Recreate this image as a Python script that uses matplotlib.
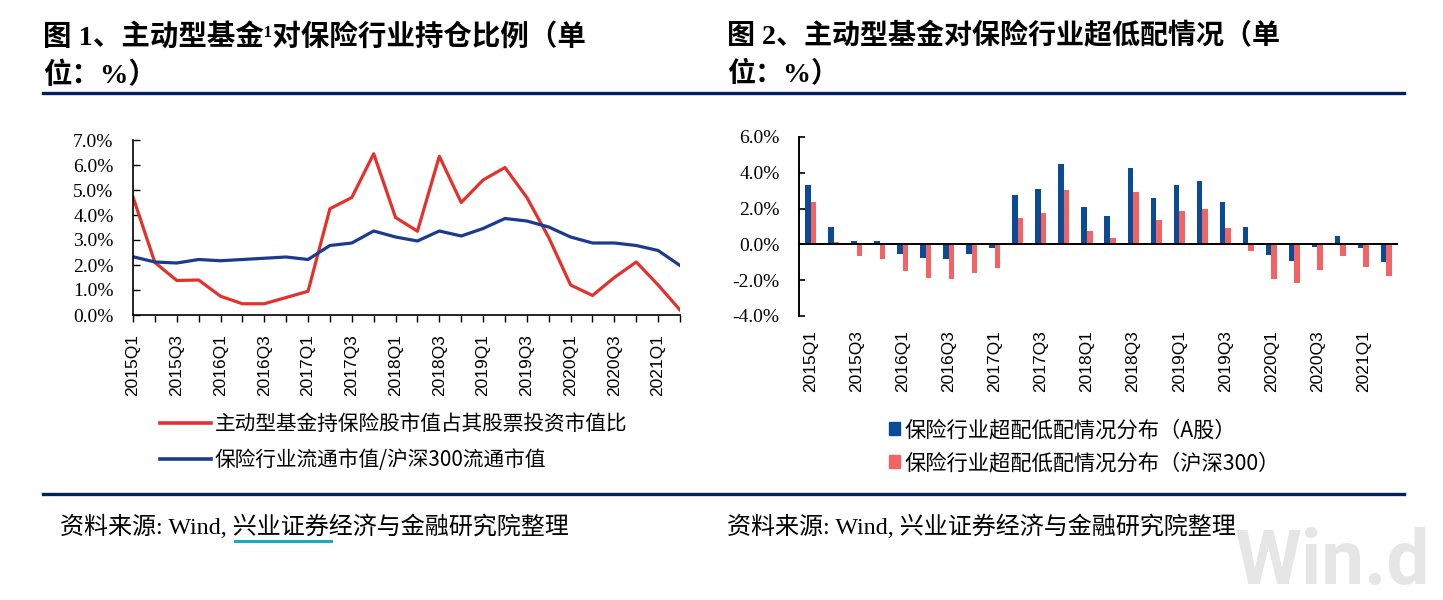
import matplotlib
matplotlib.use("Agg")
import matplotlib.pyplot as plt
from matplotlib.lines import Line2D
from matplotlib.patches import Patch
import numpy as np

quarters = [f"{y}Q{q}" for y in range(2015, 2022) for q in range(1, 5)][:26]

# Figure 1 data (%)
fund_weight = [4.72, 2.10, 1.38, 1.40, 0.75, 0.45, 0.45, 0.70, 0.95, 4.25,
               4.70, 6.45, 3.90, 3.35, 6.35, 4.50, 5.40, 5.90, 4.70, 3.10,
               1.20, 0.78, 1.50, 2.12, 1.20, 0.20]
industry_share = [2.33, 2.12, 2.08, 2.22, 2.17, 2.22, 2.27, 2.32, 2.22, 2.78,
                  2.88, 3.36, 3.12, 2.96, 3.36, 3.16, 3.46, 3.86, 3.76, 3.52,
                  3.12, 2.88, 2.88, 2.78, 2.58, 1.98]

# Figure 2 data (%)
over_a = [3.31, 0.97, 0.17, 0.17, -0.53, -0.74, -0.84, -0.53, -0.22, 2.74,
          3.10, 4.50, 2.07, 1.58, 4.28, 2.59, 3.31, 3.54, 2.38, 0.97,
          -0.59, -0.91, -0.13, 0.46, -0.20, -0.97]
over_hs300 = [2.38, 0.11, -0.67, -0.82, -1.47, -1.85, -1.92, -1.62, -1.33, 1.50,
              1.77, 3.03, 0.76, 0.34, 2.95, 1.35, 1.85, 2.00, 0.91, -0.38,
              -1.92, -2.13, -1.41, -0.67, -1.24, -1.77]

label1_red = "主动型基金持保险股市值占其股票投资市值比"
label1_blue = "保险行业流通市值/沪深300流通市值"
label2_blue = "保险行业超配低配情况分布（A股）"
label2_red = "保险行业超配低配情况分布（沪深300）"

W, H = 1443, 600
fig = plt.figure(figsize=(W / 100, H / 100), dpi=100)

CJK = ['Liberation Serif', 'Noto Sans CJK SC', 'DejaVu Sans']
CJK_SANS = ['Noto Sans CJK SC', 'DejaVu Sans']
NAVY = '#002060'

def fx(px):
    return px / W

def fy(py):
    return 1 - py / H

# titles
fig.text(fx(43), fy(37), "图 1、主动型基金¹对保险行业持仓比例（单", family=CJK,
         fontsize=20.5, weight='bold', va='center', ha='left')
fig.text(fx(43), fy(75), "位：%）", family=CJK, fontsize=20.5, weight='bold',
         va='center', ha='left')
fig.text(fx(727), fy(37), "图 2、主动型基金对保险行业超低配情况（单", family=CJK,
         fontsize=20.2, weight='bold', va='center', ha='left')
fig.text(fx(727), fy(75), "位：%）", family=CJK, fontsize=20.2, weight='bold',
         va='center', ha='left')

# rules
fig.add_artist(Line2D([fx(43), fx(1404)], [fy(93.5), fy(93.5)], color=NAVY, lw=2.4))
fig.add_artist(Line2D([fx(43), fx(1404)], [fy(493.5), fy(493.5)], color=NAVY, lw=2.4))

# sources
fig.text(fx(60), fy(527), "资料来源: Wind, 兴业证券经济与金融研究院整理", family=CJK,
         fontsize=17.3, va='center', ha='left')
fig.text(fx(727), fy(527), "资料来源: Wind, 兴业证券经济与金融研究院整理", family=CJK,
         fontsize=17.3, va='center', ha='left')
fig.add_artist(Line2D([fx(235), fx(331)], [fy(541), fy(541)], color='#19A9C2', lw=2.2))

# watermark
fig.text(fx(1235), fy(600), "Win.d", family='Roboto', weight='bold', fontsize=55,
         color='#e6e6e6', va='bottom', ha='left', zorder=0)

x = np.arange(len(quarters))
tick_labels = [q if i % 2 == 0 else "" for i, q in enumerate(quarters)]

# ---- Left chart ----
axL = fig.add_axes([fx(133), fy(315), fx(547), 175 / H])
axL.plot(x, fund_weight, color='#E5312C', lw=2.3, label=label1_red)
axL.plot(x, industry_share, color='#1C3A8E', lw=2.3, label=label1_blue)
axL.set_xlim(0, 25)
axL.set_ylim(0, 7)
axL.set_yticks(range(0, 8))
axL.set_yticklabels([f"{v:.1f}%" for v in range(0, 8)], family='Liberation Serif',
                    fontsize=14)
axL.set_xticks(x)
axL.set_xticklabels(tick_labels, rotation=90, family='Liberation Sans', fontsize=12.5)
for s in ['top', 'right']:
    axL.spines[s].set_visible(False)
for s in ['left', 'bottom']:
    axL.spines[s].set_color('black')
    axL.spines[s].set_linewidth(1.2)
axL.tick_params(axis='y', direction='in', length=5, width=1.0, pad=14)
axL.tick_params(axis='x', direction='out', length=5, width=1.0, pad=9)
axL.patch.set_alpha(0)

hL = [Line2D([], [], color='#E5312C', lw=2.6), Line2D([], [], color='#1C3A8E', lw=2.6)]
fig.legend(hL, [label1_red, label1_blue], loc='upper left',
           bbox_to_anchor=(fx(160), fy(413)), frameon=False,
           prop={'family': CJK_SANS, 'size': 14.9}, handlelength=2.45,
           handletextpad=0.2, labelspacing=0.68, borderaxespad=0, borderpad=0)

# ---- Right chart ----
axR = fig.add_axes([fx(799), fy(316), fx(599), 179 / H])
bw = 0.24
axR.bar(x - bw / 2, over_a, width=bw, color='#0B4A94', label=label2_blue)
axR.bar(x + bw / 2, over_hs300, width=bw, color='#F26363', label=label2_red)
axR.axhline(0, color='black', lw=1.4, zorder=3)
axR.set_xlim(-0.5, 25.5)
axR.set_ylim(-4, 6)
axR.set_yticks(range(-4, 7, 2))
axR.set_yticklabels([f"{v:.1f}%" for v in range(-4, 7, 2)], family='Liberation Serif',
                    fontsize=14)
axR.set_xticks(x)
axR.set_xticklabels(tick_labels, rotation=90, family='Liberation Sans', fontsize=12.5)
for s in ['top', 'right', 'bottom']:
    axR.spines[s].set_visible(False)
axR.spines['left'].set_color('black')
axR.spines['left'].set_linewidth(1.4)
axR.tick_params(axis='y', direction='in', length=4, width=1.2, pad=14)
axR.tick_params(axis='x', length=0, pad=10)
axR.patch.set_alpha(0)

hR = [Patch(color='#0B4A94'), Patch(color='#F26363')]
fig.legend(hR, [label2_blue, label2_red], loc='upper left',
           bbox_to_anchor=(fx(889), fy(419)), frameon=False,
           prop={'family': CJK_SANS, 'size': 15.3}, handlelength=0.5, handleheight=0.6,
           handletextpad=0.25, labelspacing=0.52, borderaxespad=0, borderpad=0)

fig.savefig("out.png", dpi=100)
